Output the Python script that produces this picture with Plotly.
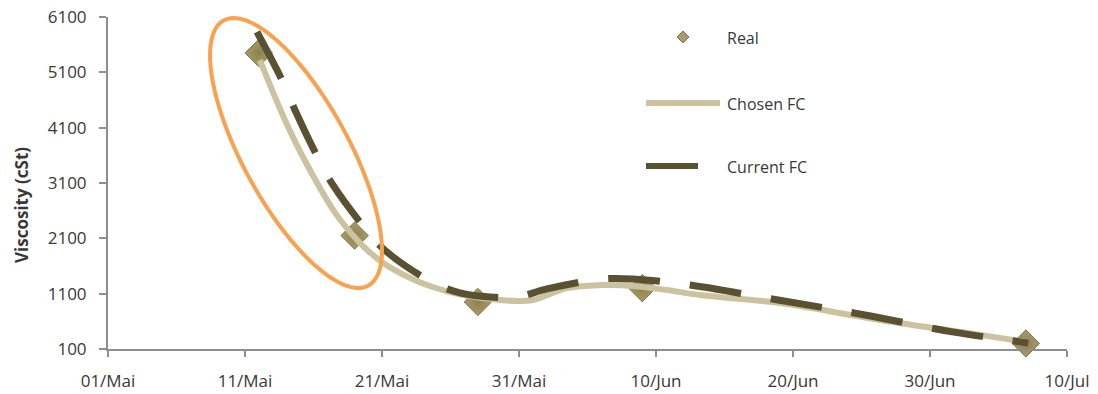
import numpy as np
import plotly.graph_objects as go

# Measured viscosity samples
real_dates = ["2013-05-12", "2013-05-19", "2013-05-28", "2013-06-09", "2013-07-07"]
real_visc = [5450, 2150, 950, 1200, 200]

# Forecast curve that was selected
chosen_dates = [
    "2013-05-12 02:00", "2013-05-13 22:00", "2013-05-15 13:00", "2013-05-17 14:00",
    "2013-05-18 19:00", "2013-05-19 22:00", "2013-05-21 02:00", "2013-05-22 07:30",
    "2013-05-23 13:00", "2013-05-24 17:00", "2013-05-25 23:00", "2013-05-27 05:00",
    "2013-05-28 09:00", "2013-05-29 15:00", "2013-05-30 20:30", "2013-06-01 00:30",
    "2013-06-03 12:00", "2013-06-05 22:00", "2013-06-08 08:00", "2013-06-10 19:00",
    "2013-06-13 05:00", "2013-06-19 01:00", "2013-06-26 08:00", "2013-07-03 16:00",
    "2013-07-07 02:00",
]
chosen_visc = [
    5320, 4240, 3425, 2560,
    2180, 1890, 1655, 1475,
    1330, 1220, 1130, 1060,
    1020, 985, 968, 985,
    1200, 1255, 1240, 1165,
    1075, 930, 625, 355,
    225,
]

# Forecast curve currently in use
current_dates = [
    "2013-05-11 21:00", "2013-05-13 18:30", "2013-05-14 15:30", "2013-05-16 08:00",
    "2013-05-17 10:00", "2013-05-19 23:30", "2013-05-21 09:00", "2013-05-24 17:00",
    "2013-05-26 16:30", "2013-05-28 21:00", "2013-05-30 22:00", "2013-06-02 01:00",
    "2013-06-06 03:00", "2013-06-08 08:00", "2013-06-12 11:30", "2013-06-18 22:00",
    "2013-06-25 06:00", "2013-07-01 15:00", "2013-07-07 04:00",
]
current_visc = [
    5830, 4925, 4420, 3550,
    3065, 2215, 1850, 1300,
    1115, 1040, 1040, 1185,
    1365, 1365, 1255, 985,
    715, 410, 210,
]

x_tick_dates = ["2013-05-01", "2013-05-11", "2013-05-21", "2013-05-31",
                "2013-06-10", "2013-06-20", "2013-06-30", "2013-07-10"]
x_tick_labels = ["01/Mai", "11/Mai", "21/Mai", "31/Mai",
                 "10/Jun", "20/Jun", "30/Jun", "10/Jul"]
y_ticks = [100, 1100, 2100, 3100, 4100, 5100, 6100]

REAL_FILL = "#a89d6a"
REAL_EDGE = "#7b7047"
CHOSEN = "#cbc3a0"
CURRENT = "#595132"
HIGHLIGHT = "#f8a24f"
TEXT = "#383838"
AXIS = "#8e8e8e"
FONT = "Open Sans"

W, H = 1098, 394
M_L, M_R, M_T, M_B = 108, 31, 17, 45
PW, PH = W - M_L - M_R, H - M_T - M_B


def to_paper(px, py):
    """Pixel position on the page -> paper coordinates of the plot area."""
    return (px - M_L) / PW, (H - M_B - py) / PH


fig = go.Figure()

fig.add_trace(go.Scatter(
    x=real_dates, y=real_visc, mode="markers", name="Real",
    marker=dict(symbol="diamond", size=21, color=REAL_FILL,
                line=dict(color=REAL_EDGE, width=1),
                gradient=dict(type="radial", color="#8c804f")),
    cliponaxis=False,
))
fig.add_trace(go.Scatter(
    x=chosen_dates, y=chosen_visc, mode="lines", name="Chosen FC",
    line=dict(color=CHOSEN, width=6, shape="spline", smoothing=1),
    cliponaxis=False,
))
fig.add_trace(go.Scatter(
    x=current_dates, y=current_visc, mode="lines", name="Current FC",
    line=dict(color=CURRENT, width=7, shape="spline", smoothing=1, dash="52px,30px"),
    cliponaxis=False,
))

# Highlight ellipse around the early steep drop
cx, cy, a, b, theta = 296, 153, 151, 53, np.deg2rad(61.4)
t = np.linspace(0, 2 * np.pi, 120)
ex = cx + a * np.cos(t) * np.cos(theta) - b * np.sin(t) * np.sin(theta)
ey = cy + a * np.cos(t) * np.sin(theta) + b * np.sin(t) * np.cos(theta)
pts = [to_paper(x, y) for x, y in zip(ex, ey)]
ellipse_path = "M " + " L ".join(f"{x:.5f},{y:.5f}" for x, y in pts) + " Z"

shapes = [dict(type="path", xref="paper", yref="paper", path=ellipse_path,
               line=dict(color=HIGHLIGHT, width=4), fillcolor="rgba(0,0,0,0)")]

# Legend drawn by hand
dx, dy = 683, 37
dpts = [to_paper(dx, dy - 6), to_paper(dx + 6, dy), to_paper(dx, dy + 6), to_paper(dx - 6, dy)]
shapes.append(dict(type="path", xref="paper", yref="paper",
                   path="M " + " L ".join(f"{x:.5f},{y:.5f}" for x, y in dpts) + " Z",
                   fillcolor=REAL_FILL, line=dict(color=REAL_EDGE, width=1)))
for (x0, x1, yy, col) in [(646, 720, 103, CHOSEN), (646, 698, 166, CURRENT)]:
    p0, p1 = to_paper(x0, yy), to_paper(x1, yy)
    shapes.append(dict(type="line", xref="paper", yref="paper",
                       x0=p0[0], y0=p0[1], x1=p1[0], y1=p1[1],
                       line=dict(color=col, width=6)))

annotations = []
for label, yy in [("Real", 38), ("Chosen FC", 104), ("Current FC", 167)]:
    px_, py_ = to_paper(725, yy)
    annotations.append(dict(x=px_, y=py_, xref="paper", yref="paper", text=label,
                            showarrow=False, xanchor="left", yanchor="middle",
                            font=dict(family=FONT, size=16, color=TEXT)))

# Y axis title, placed as rotated text
tx, ty = to_paper(22, 205)
annotations.append(dict(x=tx, y=ty, xref="paper", yref="paper",
                        text="<b>Viscosity (cSt)</b>", textangle=-90, showarrow=False,
                        xanchor="center", yanchor="middle",
                        font=dict(family=FONT, size=17, color=TEXT)))

fig.update_layout(
    width=W, height=H,
    margin=dict(l=M_L, r=M_R, t=M_T, b=M_B),
    paper_bgcolor="white", plot_bgcolor="white",
    showlegend=False,
    font=dict(family=FONT, size=16, color=TEXT),
    shapes=shapes, annotations=annotations,
    xaxis=dict(
        type="date", range=["2013-05-01", "2013-07-10"],
        tickvals=x_tick_dates, ticktext=x_tick_labels,
        showgrid=False, zeroline=False, automargin=False,
        showline=True, linecolor=AXIS, linewidth=2,
        ticks="outside", ticklen=6, tickwidth=2, tickcolor=AXIS,
        ticklabelstandoff=10,
        tickfont=dict(family=FONT, size=17, color=TEXT),
    ),
    yaxis=dict(
        range=[100, 6100], tickvals=y_ticks,
        showgrid=False, zeroline=False, automargin=False,
        showline=True, linecolor=AXIS, linewidth=2,
        ticks="outside", ticklen=7, tickwidth=2, tickcolor=AXIS,
        ticklabelstandoff=9,
        tickfont=dict(family=FONT, size=17, color=TEXT),
    ),
)

fig.write_html("out.html")
